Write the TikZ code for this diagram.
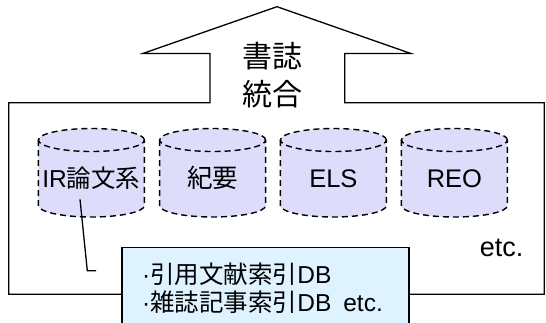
\documentclass[tikz,border=0pt]{standalone}
\usepackage{fontspec}
\setmainfont{Liberation Sans}
\newfontfamily\cjk{Noto Sans CJK JP}
\definecolor{cylfill}{RGB}{221,221,251}
\definecolor{boxfill}{RGB}{223,242,255}
\tikzset{
  outline/.style={draw=black, line width=1.3pt, line join=miter},
  cylline/.style={draw=black, line width=1.4pt, dash pattern=on 6pt off 4pt},
  lbl/.style={inner sep=0pt, font=\fontsize{25.5}{30}\selectfont},
  title/.style={inner sep=0pt, font=\fontsize{30}{36}\selectfont\cjk},
  boxtext/.style={inner sep=0pt, anchor=base west, font=\fontsize{24.5}{29}\selectfont},
  callout/.style={draw=black, line width=1.3pt},
}
\begin{document}
\begin{tikzpicture}[x=1pt, y=-1pt]
\useasboundingbox (0,0) rectangle (546,322);
\clip (0,0) rectangle (546,322);
% big arrow-house outline
\draw[outline] (8.7,102.7) -- (210,102.7) -- (210,53.5) -- (142.8,53.5) -- (277,6.7)
  -- (410.9,53.5) -- (344.7,53.5) -- (344.7,102.7) -- (544.3,102.7) -- (544.3,294.3)
  -- (8.7,294.3) -- cycle;
\node[title] (t1) at (272,55.8) {書誌};
\node[title] (t2) at (272,94.2) {統合};
% cylinders
\foreach \cx in {91.4,212.6,333.4,454.4}{
  \fill[cylfill] (\cx-53,140) -- (\cx-53,205.5) arc[start angle=180, end angle=360, x radius=53pt, y radius=11.5pt]
     -- (\cx+53,140) arc[start angle=0, end angle=180, x radius=53pt, y radius=11.5pt] -- cycle;
  \draw[cylline] (\cx-53,140) -- (\cx-53,205.5) arc[start angle=180, end angle=360, x radius=53pt, y radius=11.5pt]
     -- (\cx+53,140);
  \draw[cylline] (\cx,140) ellipse [x radius=53pt, y radius=11.5pt];
}
\node[lbl, font=\fontsize{24.5}{30}\selectfont] (ir) at (91.4,178.3) {IR{\cjk 論文系}};
\node[lbl] (kiyo) at (212.6,178.3) {\cjk 紀要};
\node[lbl] (els) at (333.4,178.3) {ELS};
\node[lbl] (reo) at (454.4,178.3) {REO};
\node[lbl, anchor=base, font=\fontsize{27}{32}\selectfont] (etc) at (501.7,256.7) {etc.};
% callout line
\coordinate (cs) at (80,199.3);
\coordinate (cb) at (87.3,270.7);
\coordinate (ce) at (96,270.7);
\draw[callout] (cs) -- (cb) -- (ce);
% blue box
\filldraw[outline, fill=boxfill] (121.9,330) -- (121.9,247.7) -- (409.1,247.7) -- (409.1,330);
\node[boxtext] (l1) at (142,283.3) {·{\cjk 引用文献索引}DB};
\node[boxtext] (l2) at (142,311.7) {·{\cjk 雑誌記事索引}DB\hspace{12pt}etc.};
\end{tikzpicture}
\end{document}
